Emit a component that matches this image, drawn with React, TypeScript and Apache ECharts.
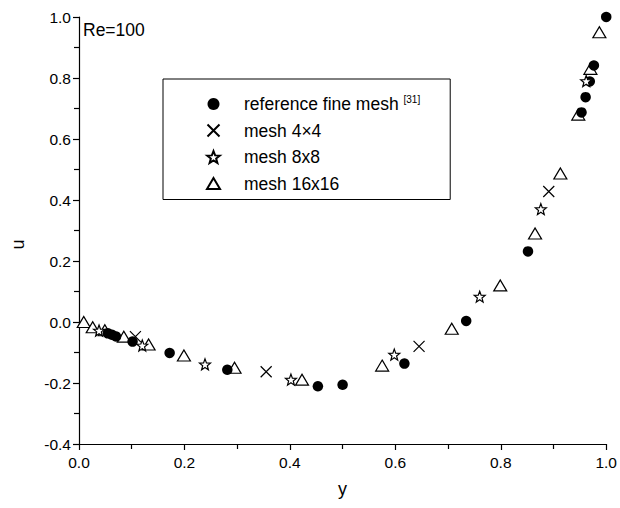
import React, { useEffect, useRef } from "react";
import * as echarts from "echarts";

// reference fine mesh [31] (y, u)
const refData: number[][] = [
  [0.0547, -0.03717], [0.0625, -0.04192], [0.0703, -0.04775], [0.1016, -0.06434],
  [0.1719, -0.1015], [0.2813, -0.15662], [0.4531, -0.2109], [0.5, -0.20581],
  [0.6172, -0.13641], [0.7344, 0.00332], [0.8516, 0.23151], [0.9531, 0.68717],
  [0.9609, 0.73722], [0.9688, 0.78871], [0.9766, 0.84123], [1.0, 1.0],
];
// mesh 4x4
const mesh4: number[][] = [
  [0.107, -0.048], [0.355, -0.163], [0.645, -0.08], [0.891, 0.428],
];
// mesh 8x8
const mesh8: number[][] = [
  [0.038, -0.028], [0.12, -0.077], [0.239, -0.139], [0.402, -0.189],
  [0.598, -0.107], [0.76, 0.083], [0.876, 0.37], [0.962, 0.79],
];
// mesh 16x16
const mesh16: number[][] = [
  [0.009, 0.0], [0.026, -0.017], [0.049, -0.027], [0.085, -0.048],
  [0.132, -0.074], [0.199, -0.11], [0.295, -0.15], [0.423, -0.189],
  [0.575, -0.143], [0.707, -0.022], [0.799, 0.12], [0.865, 0.29],
  [0.913, 0.487], [0.947, 0.68], [0.97, 0.83], [0.987, 0.95],
];
const seriesNames = ["reference fine mesh", "mesh 4\u00D74", "mesh 8x8", "mesh 16x16"];

const CROSS = "path://M0,0L10,10M10,0L0,10";
const STAR =
  "path://M10,0L12.47,6.6L19.51,6.91L14,11.3L15.88,18.09L10,14.2L4.12,18.09L6,11.3L0.49,6.91L7.53,6.6Z";
const TRI = "path://M6.5,0L13,11L0,11Z";

const FONT = "'Liberation Sans', Arial, sans-serif";

export default function App() {
  const ref = useRef<HTMLDivElement>(null);
  useEffect(() => {
    if (!ref.current) return;
    const chart = echarts.init(ref.current, null, { renderer: "svg" });
    const axisCommon = {
      type: "value" as const,
      axisLine: { show: true, onZero: false, lineStyle: { color: "#000", width: 1.2 } },
      axisTick: { show: true, inside: false, length: 6, lineStyle: { color: "#000", width: 1.2 } },
      minorTick: { show: true, splitNumber: 2, length: 5, lineStyle: { color: "#000", width: 1.2 } },
      splitLine: { show: false },
      axisLabel: {
        color: "#000",
        fontSize: 15.5,
        fontFamily: FONT,
        formatter: (v: number) => v.toFixed(1),
      },
    };
    chart.setOption({
      animation: false,
      backgroundColor: "#fff",
      grid: { left: 79, right: 9, top: 17, bottom: 64, containLabel: false },
      xAxis: {
        ...axisCommon,
        min: 0,
        max: 1,
        interval: 0.2,
        name: "y",
        nameLocation: "middle",
        nameGap: 36,
        nameTextStyle: { color: "#000", fontSize: 18, fontFamily: FONT },
        axisLabel: { ...axisCommon.axisLabel, margin: 10 },
      },
      yAxis: {
        ...axisCommon,
        min: -0.4,
        max: 1.0,
        interval: 0.2,
        name: "u",
        nameLocation: "middle",
        nameRotate: 90,
        nameGap: 52,
        nameTextStyle: { color: "#000", fontSize: 18, fontFamily: FONT, padding: [0, 28, 0, 0] },
        axisLabel: { ...axisCommon.axisLabel, margin: 8 },
      },
      legend: {
        orient: "vertical",
        left: 163,
        top: 79,
        padding: [15, 30, 6, 43],
        itemWidth: 13,
        itemHeight: 12,
        itemGap: 6.5,
        symbolKeepAspect: true,
        borderColor: "#000",
        borderWidth: 1,
        selectedMode: false,
        data: [
          { name: seriesNames[0], icon: "circle" },
          { name: seriesNames[1], icon: CROSS },
          { name: seriesNames[2], icon: STAR },
          { name: seriesNames[3], icon: TRI },
        ],
        formatter: (name: string) =>
          name === seriesNames[0] ? "{a|" + name + "} {s|[31]}" : "{a|" + name + "}",
        textStyle: {
          color: "#000",
          fontSize: 17.5,
          fontFamily: FONT,
          lineHeight: 20,
          padding: [0, 0, 0, 19],
          rich: {
            a: { fontSize: 17.5, fontFamily: FONT, color: "#000", lineHeight: 20 },
            s: { fontSize: 10, fontFamily: FONT, color: "#000", verticalAlign: "top", lineHeight: 12 },
          },
        },
      },
      graphic: [
        {
          type: "text",
          left: 83,
          top: 21,
          style: { text: "Re=100", fontSize: 17.5, fontFamily: FONT, fill: "#000" },
        },
      ],
      series: [
        {
          name: seriesNames[0],
          type: "scatter",
          data: refData,
          symbol: "circle",
          symbolSize: 10.5,
          itemStyle: { color: "#000", opacity: 1 },
          z: 3,
        },
        {
          name: seriesNames[1],
          type: "scatter",
          data: mesh4,
          symbol: CROSS,
          symbolSize: 11,
          itemStyle: { color: "transparent", borderColor: "#000", borderWidth: 1.2, opacity: 1 },
          z: 4,
        },
        {
          name: seriesNames[2],
          type: "scatter",
          data: mesh8,
          symbol: STAR,
          symbolSize: 11,
          itemStyle: { color: "#fff", borderColor: "#000", borderWidth: 1.2, opacity: 1 },
          z: 5,
        },
        {
          name: seriesNames[3],
          type: "scatter",
          data: mesh16,
          symbol: TRI,
          symbolSize: [13, 11],
          itemStyle: { color: "#fff", borderColor: "#000", borderWidth: 1.2, opacity: 1 },
          z: 2,
        },
      ],
    });
    return () => chart.dispose();
  }, []);
  return <div ref={ref} style={{ width: 620, height: 508, position: "absolute", left: 0, top: 0 }} />;
}
